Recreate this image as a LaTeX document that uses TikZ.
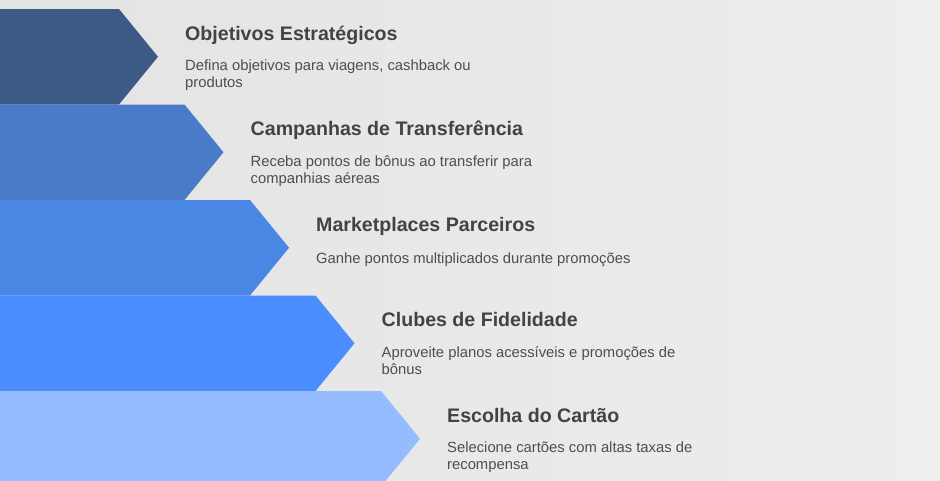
\documentclass[tikz,border=0pt]{standalone}
\usepackage{fontspec}
\setmainfont{Liberation Sans}
\usetikzlibrary{positioning}
\definecolor{paperL}{HTML}{E3E3E3}
\definecolor{paperR}{HTML}{EEEEEE}
\definecolor{bandA}{HTML}{3D5A87}
\definecolor{bandB}{HTML}{4A7BC9}
\definecolor{bandC}{HTML}{4A86E3}
\definecolor{bandD}{HTML}{4C8DFF}
\definecolor{bandE}{HTML}{94BCFF}
\definecolor{headgray}{HTML}{434343}
\definecolor{blurbgray}{HTML}{4E4E4E}
\tikzset{
    headline/.style={anchor=base west, inner sep=0pt, text=headgray,
        font=\fontsize{19.6}{22}\selectfont\bfseries},
    blurb/.style={anchor=base west, inner sep=0pt, text=blurbgray, align=left,
        font=\fontsize{14.8}{17}\selectfont},
}

\begin{document}
\begin{tikzpicture}[x=1pt, y=-1pt]
    \useasboundingbox (0,0) rectangle (940,480);
    \clip (0,0) rectangle (940,480);
    \shade[left color=paperL, right color=paperR] (0,0) rectangle (940,480);
    % bands
    \fill[bandA] (0,9) -- (119,9) -- (158,56.75) -- (119,104.5) -- (0,104.5) -- cycle;
    \fill[bandB] (0,104.5) -- (184.5,104.5) -- (223.5,152.25) -- (184.5,200) -- (0,200) -- cycle;
    \fill[bandC] (0,200) -- (250,200) -- (289,247.75) -- (250,295.5) -- (0,295.5) -- cycle;
    \fill[bandD] (0,295.5) -- (315.5,295.5) -- (354.5,343.25) -- (315.5,391) -- (0,391) -- cycle;
    \fill[bandE] (0,391) -- (381,391) -- (420,438.75) -- (381,486.5) -- (0,486.5) -- cycle;
    % texts (two-line blurbs sit on the baseline of their last line)
    \node[headline] (objetivos) at (185,40.25) {Objetivos Estratégicos};
    \node[blurb] (objetivosTxt) at (185,87.5) {Defina objetivos para viagens, cashback ou\\produtos};
    \node[headline] (campanhas) at (250.5,135.75) {Campanhas de Transferência};
    \node[blurb] (campanhasTxt) at (250.5,183) {Receba pontos de bônus ao transferir para\\companhias aéreas};
    \node[headline] (marketplaces) at (316,231.25) {Marketplaces Parceiros};
    \node[blurb] (marketplacesTxt) at (316,263) {Ganhe pontos multiplicados durante promoções};
    \node[headline] (clubes) at (381.5,326.75) {Clubes de Fidelidade};
    \node[blurb] (clubesTxt) at (381.5,374) {Aproveite planos acessíveis e promoções de\\bônus};
    \node[headline] (escolha) at (447,422.25) {Escolha do Cartão};
    \node[blurb] (escolhaTxt) at (447,469.5) {Selecione cartões com altas taxas de\\recompensa};
\end{tikzpicture}
\end{document}
